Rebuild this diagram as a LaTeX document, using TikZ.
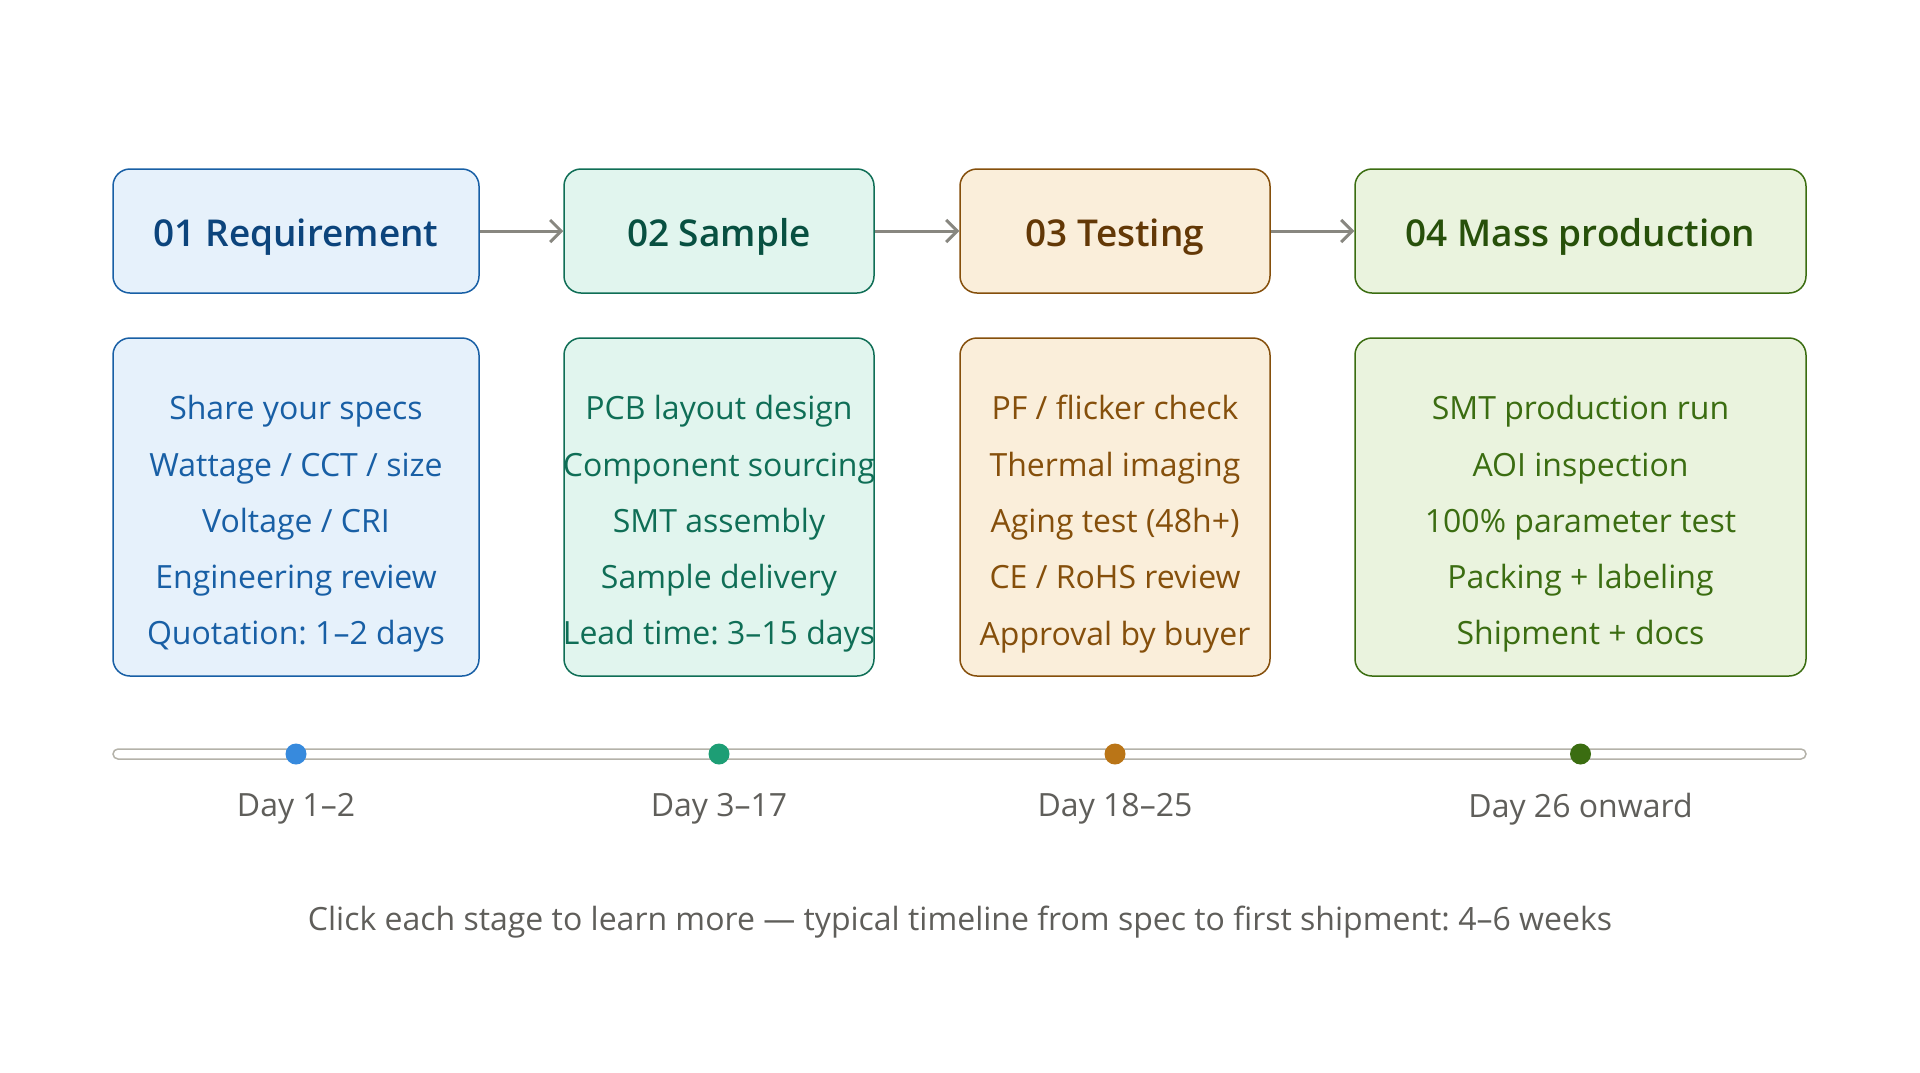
\documentclass[tikz,border=0pt]{standalone}
\usepackage{fontspec}
\setmainfont{Open Sans}[BoldFont={Open Sans Semibold}]
\usepackage{tikz}
\usetikzlibrary{
arrows.meta,
positioning,
calc
}
\usepackage{xcolor}
\frenchspacing

\definecolor{bluefill}{HTML}{E6F1FB}
\definecolor{blueline}{HTML}{185FA5}
\definecolor{bluedark}{HTML}{0C447C}
\definecolor{bluedot}{HTML}{378ADD}
\definecolor{tealfill}{HTML}{E1F5EE}
\definecolor{tealline}{HTML}{0F6E56}
\definecolor{tealdark}{HTML}{085041}
\definecolor{tealdot}{HTML}{1D9E75}
\definecolor{amberfill}{HTML}{FAEEDA}
\definecolor{amberline}{HTML}{854F0B}
\definecolor{amberdark}{HTML}{633806}
\definecolor{amberdot}{HTML}{BA7517}
\definecolor{greenfill}{HTML}{EAF3DE}
\definecolor{greenline}{HTML}{3B6D11}
\definecolor{greendark}{HTML}{27500A}
\definecolor{greendot}{HTML}{3B6D11}
\definecolor{arrowgray}{HTML}{888780}
\definecolor{trackgray}{HTML}{B4B2A9}
\definecolor{labelgray}{HTML}{5F5E5A}

\tikzset{
headbox/.style={draw=#1line, fill=#1fill, text=#1dark, rounded corners=17pt, line width=1.5pt,
  minimum height=124pt, inner sep=0pt},
headtext/.style={text=#1dark, inner sep=0pt, font=\fontsize{37}{42}\selectfont\bfseries},
detbox/.style={draw=#1line, fill=#1fill, rounded corners=17pt, line width=1.5pt,
  minimum height=338pt, inner sep=0pt},
dettext/.style={text=#1line, align=center, inner sep=0pt, font=\fontsize{32}{56.3}\selectfont},
daydot/.style={circle, fill=#1dot, minimum size=21pt, inner sep=0pt},
daylabel/.style={text=labelgray, inner sep=0pt, font=\fontsize{32}{38}\selectfont},
flow/.style={draw=arrowgray, line width=3pt, -{Straight Barb[length=11pt, width=22pt]}}
}

\begin{document}
\begin{tikzpicture}[x=1pt, y=-1pt]

    \useasboundingbox (0,0) rectangle (1920,1072);

    % ==================== STAGE HEADERS ====================
    \node [headbox=blue,  minimum width=366pt] (req)  at (296, 231)    {};
    \node [headbox=teal,  minimum width=310pt] (samp) at (719, 231)    {};
    \node [headbox=amber, minimum width=310pt] (test) at (1115, 231)   {};
    \node [headbox=green, minimum width=451pt] (mass) at (1580.5, 231) {};

    % Titles, a little under the middle
    \node [headtext=blue,  yshift=-6pt] (reqname)  at (req.center)  {01 Requirement};
    \node [headtext=teal,  yshift=-6pt] (sampname) at (samp.center) {02 Sample};
    \node [headtext=amber, yshift=-6pt] (testname) at (test.center) {03 Testing};
    \node [headtext=green, yshift=-6pt] (massname) at (mass.center) {04 Mass production};

    % ==================== DETAIL BOXES ====================
    \node [detbox=blue,  minimum width=366pt] (reqbox)  at (296, 507)    {};
    \node [detbox=teal,  minimum width=310pt] (sampbox) at (719, 507)    {};
    \node [detbox=amber, minimum width=310pt] (testbox) at (1115, 507)   {};
    \node [detbox=green, minimum width=451pt] (massbox) at (1580.5, 507) {};

    % Text lines, sitting a bit low in each box
    \node [dettext=blue, yshift=-17pt] (reqlist) at (reqbox.center)
        {Share your specs\\Wattage / CCT / size\\Voltage / CRI\\Engineering review\\Quotation: 1--2 days};
    \node [dettext=teal, yshift=-17pt] (samplist) at (sampbox.center)
        {PCB layout design\\Component sourcing\\SMT assembly\\Sample delivery\\Lead time: 3--15 days};
    \node [dettext=amber, yshift=-17pt] (testlist) at (testbox.center)
        {PF / flicker check\\Thermal imaging\\Aging test (48h+)\\CE / RoHS review\\Approval by buyer};
    \node [dettext=green, yshift=-17pt] (masslist) at (massbox.center)
        {SMT production run\\AOI inspection\\100\% parameter test\\Packing + labeling\\Shipment + docs};

    % ==================== FLOW ARROWS ====================
    \draw [flow] (req.east)  -- (samp.west);
    \draw [flow] (samp.east) -- (test.west);
    \draw [flow] (test.east) -- (mass.west);

    % ==================== TIMELINE ====================
    \coordinate (tstart) at (113, 754);
    \coordinate (tend)   at (1806, 754);
    \draw [draw=trackgray, fill=white, line width=1.5pt, rounded corners=5pt]
        ($(tstart)+(0,-5)$) rectangle ($(tend)+(0,5)$);

    \node [daydot=blue]  (d1) at (req.center |- tstart)  {};
    \node [daydot=teal]  (d2) at (samp.center |- tstart) {};
    \node [daydot=amber] (d3) at (test.center |- tstart) {};
    \node [daydot=green] (d4) at (mass.center |- tstart) {};

    \node [daylabel] (l1) at ($(d1)+(0,55)$) {Day 1--2};
    \node [daylabel] (l2) at ($(d2)+(0,55)$) {Day 3--17};
    \node [daylabel] (l3) at ($(d3)+(0,55)$) {Day 18--25};
    \node [daylabel] (l4) at ($(d4)+(0,55)$) {Day 26 onward};

    % ==================== CAPTION ====================
    \node [daylabel] (note) at (960, 922)
        {Click each stage to learn more --- typical timeline from spec to first shipment: 4--6 weeks};

\end{tikzpicture}
\end{document}
